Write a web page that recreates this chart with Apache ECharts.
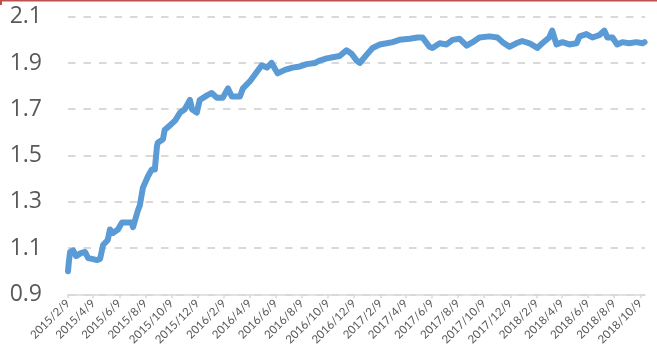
<!DOCTYPE html>
<html lang="en">
<head>
    <meta charset="UTF-8">
    <title>Chart</title>
    <script type="text/javascript" src="https://cdn.jsdelivr.net/npm/echarts@6/dist/echarts.min.js"></script>
</head>
<body>
<div id="chart" class="chart"></div>
</body>
<style>
    * {
        padding: 0;
        margin: 0;
    }

    html, body {
        width: 100%;
        height: 100%;
        background-color: white;
    }

    .chart {
        width: 657px;
        height: 351px;
    }
</style>
<script>

    // dates and values
    let dates = [
        '2015-02-09', '2015-02-11', '2015-02-14', '2015-02-21', '2015-02-28', '2015-03-04', '2015-03-11',
        '2015-03-21', '2015-03-28', '2015-04-06', '2015-04-18', '2015-04-25', '2015-04-29', '2015-05-02',
        '2015-05-13', '2015-05-18', '2015-05-25', '2015-06-06', '2015-06-15', '2015-06-27', '2015-07-08',
        '2015-07-11', '2015-07-22', '2015-07-27', '2015-08-03', '2015-08-15', '2015-08-24', '2015-08-31',
        '2015-09-05', '2015-09-07', '2015-09-19', '2015-09-23', '2015-10-05', '2015-10-17', '2015-10-29',
        '2015-11-09', '2015-11-21', '2015-11-26', '2015-12-07', '2015-12-14', '2015-12-31', '2016-01-11',
        '2016-01-23', '2016-02-06', '2016-02-18', '2016-02-27', '2016-03-17', '2016-03-24', '2016-04-09',
        '2016-04-21', '2016-05-07', '2016-05-19', '2016-05-30', '2016-06-13', '2016-06-30', '2016-07-18',
        '2016-08-04', '2016-08-20', '2016-09-08', '2016-09-19', '2016-10-06', '2016-10-20', '2016-11-05',
        '2016-11-21', '2016-12-03', '2016-12-15', '2016-12-22', '2017-01-07', '2017-01-21', '2017-02-07',
        '2017-02-23', '2017-03-09', '2017-03-25', '2017-04-18', '2017-05-06', '2017-05-18', '2017-06-03',
        '2017-06-10', '2017-06-27', '2017-07-13', '2017-07-27', '2017-08-12', '2017-08-29', '2017-09-12',
        '2017-09-28', '2017-10-21', '2017-11-09', '2017-11-21', '2017-12-07', '2017-12-23', '2018-01-06',
        '2018-01-23', '2018-02-10', '2018-02-22', '2018-03-10', '2018-03-17', '2018-03-27', '2018-04-10',
        '2018-04-26', '2018-05-13', '2018-05-20', '2018-06-05', '2018-06-19', '2018-07-05', '2018-07-17',
        '2018-07-24', '2018-08-05', '2018-08-16', '2018-08-28', '2018-09-13', '2018-09-30', '2018-10-14',
        '2018-10-19'
    ]
    let values = [
        1.00, 1.04, 1.083, 1.09, 1.065, 1.057, 1.078,
        1.083, 1.057, 1.053, 1.048, 1.053, 1.06, 1.113,
        1.135, 1.18, 1.165, 1.18, 1.21, 1.21, 1.21,
        1.19, 1.26, 1.285, 1.36, 1.41, 1.44, 1.44,
        1.54, 1.555, 1.57, 1.61, 1.63, 1.65, 1.685,
        1.70, 1.74, 1.70, 1.685, 1.74, 1.76, 1.77,
        1.75, 1.75, 1.79, 1.755, 1.755, 1.79, 1.82,
        1.85, 1.89, 1.88, 1.90, 1.855, 1.87, 1.88,
        1.885, 1.895, 1.90, 1.91, 1.92, 1.925, 1.93,
        1.955, 1.94, 1.91, 1.90, 1.935, 1.965, 1.98,
        1.985, 1.99, 2.00, 2.005, 2.01, 2.01, 1.97,
        1.965, 1.985, 1.98, 2.00, 2.005, 1.975, 1.99,
        2.01, 2.015, 2.01, 1.99, 1.97, 1.985, 1.995,
        1.985, 1.965, 1.985, 2.01, 2.04, 1.98, 1.99,
        1.98, 1.985, 2.015, 2.025, 2.01, 2.02, 2.04,
        2.01, 2.01, 1.98, 1.99, 1.985, 1.99, 1.985,
        1.99
    ]
    let tickLabels = [
        '2015/2/9', '2015/4/9', '2015/6/9', '2015/8/9', '2015/10/9', '2015/12/9',
        '2016/2/9', '2016/4/9', '2016/6/9', '2016/8/9', '2016/10/9', '2016/12/9',
        '2017/2/9', '2017/4/9', '2017/6/9', '2017/8/9', '2017/10/9', '2017/12/9',
        '2018/2/9', '2018/4/9', '2018/6/9', '2018/8/9', '2018/10/9'
    ]

    const toTime = function (s) {
        let p = s.split(/[-\/]/).map(Number)
        return new Date(p[0], p[1] - 1, p[2]).getTime()
    }

    const fmt = function (t) {
        let d = new Date(t)
        return d.getFullYear() + '/' + (d.getMonth() + 1) + '/' + d.getDate()
    }

    let tickTimes = tickLabels.map(toTime)
    let lineData = dates.map((d, i) => [toTime(d), values[i]])

    let chart = echarts.init(document.getElementById("chart"))
    let option = {
        animation: false,
        grid: {left: 68, right: 12, top: 16.7, bottom: 56.7},
        xAxis: {
            type: 'value',
            min: toTime('2015-02-09'),
            max: toTime('2018-10-20'),
            axisLine: {show: true, lineStyle: {color: '#d9d9d9', width: 1.5}},
            axisTick: {show: true, customValues: tickTimes, length: 4, lineStyle: {color: '#d9d9d9', width: 1.5}},
            axisLabel: {
                customValues: tickTimes,
                formatter: (v) => fmt(v),
                rotate: 45,
                fontSize: 11.5,
                fontFamily: 'Lato',
                color: '#595959',
                margin: 7
            },
            splitLine: {show: false}
        },
        yAxis: {
            type: 'value',
            min: 0.9,
            max: 2.1,
            interval: 0.2,
            axisLine: {show: false},
            axisTick: {show: false},
            axisLabel: {
                formatter: (v) => v.toFixed(1),
                fontSize: 23,
                fontFamily: 'Open Sans',
                color: '#595959',
                margin: 26
            },
            splitLine: {lineStyle: {color: '#d9d9d9', width: 2, type: [7.5, 8]}}
        },
        series: [
            {
                type: 'line',
                data: lineData,
                showSymbol: false,
                lineStyle: {color: '#5b9bd5', width: 6, cap: 'round', join: 'round'}
            }
        ],
        graphic: [
            {type: 'rect', shape: {x: 0, y: 0, width: 657, height: 1.5}, style: {fill: '#c0504d'}},
            {type: 'rect', shape: {x: 0, y: 0, width: 2, height: 5}, style: {fill: '#c0504d'}}
        ]
    }
    chart.setOption(option)

</script>
</html>
